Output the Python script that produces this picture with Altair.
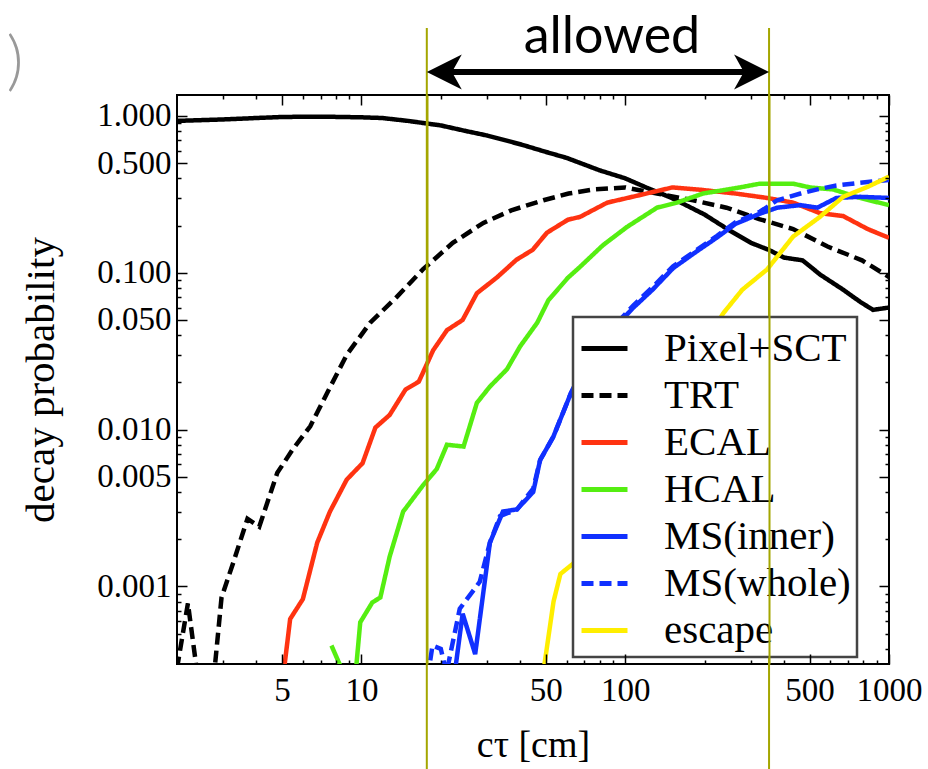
import altair as alt
import pandas as pd

# ---------------- data ----------------
series_names = ["Pixel+SCT", "TRT", "ECAL", "HCAL", "MS(inner)", "MS(whole)", "escape"]
series_colors = ["#000000", "#000000", "#ff3311", "#55ee11", "#1030ff", "#1030ff", "#ffee00"]
series_dash = [[1, 0], [12, 6], [1, 0], [1, 0], [1, 0], [12, 6], [1, 0]]

pix_ct = [2, 3, 4, 5, 7, 10, 12, 15, 20, 25, 30, 40, 50, 60, 80, 100, 120, 150, 200,
          250, 300, 350, 400, 470, 550, 670, 780, 870, 1000]
pix_p = [0.93, 0.95, 0.97, 0.985, 0.99, 0.98, 0.97, 0.93, 0.87, 0.80, 0.75, 0.66, 0.59,
         0.54, 0.45, 0.40, 0.35, 0.30, 0.235, 0.185, 0.155, 0.14, 0.125, 0.12, 0.097,
         0.078, 0.065, 0.058, 0.06]

trt_ct = [2.0, 2.2, 2.45, 2.75, 2.95, 3.26, 3.7, 4.1, 4.8, 5.5, 6.4, 7.4, 8.8, 10.8, 13.6,
          17.1, 22.2, 29, 37, 49, 61, 76, 100, 132, 181, 242, 322, 433, 585, 790, 1000]
trt_p = [0.0003, 0.00078, 0.0002, 0.00025, 0.00085, 0.0014, 0.0027, 0.0024, 0.0053, 0.0075,
         0.0105, 0.017, 0.03, 0.048, 0.07, 0.105, 0.155, 0.208, 0.25, 0.29, 0.32, 0.34,
         0.35, 0.32, 0.29, 0.26, 0.22, 0.19, 0.147, 0.12, 0.094]

ecal_ct = [4.95, 5.37, 6.0, 6.8, 7.6, 8.8, 10.1, 11.3, 12.8, 14.7, 16.5, 17.1, 18.7, 21.1,
           24.2, 27.4, 32.8, 38.7, 44.6, 50.5, 60.7, 67.4, 85.5, 111, 151, 194, 262, 345,
           433, 547, 670, 830, 1000]
ecal_p = [0.0002, 0.00062, 0.00083, 0.0019, 0.003, 0.0048, 0.0061, 0.0103, 0.0124, 0.018,
          0.0202, 0.023, 0.032, 0.043, 0.05, 0.074, 0.094, 0.121, 0.14, 0.18, 0.218, 0.227,
          0.28, 0.31, 0.35, 0.338, 0.32, 0.30, 0.28, 0.24, 0.23, 0.19, 0.167]

hcal_ct = [7.7, 8.4, 9.0, 9.9, 11.0, 11.8, 12.8, 14.4, 17.1, 19.3, 21.1, 24.4, 27.4, 30.7,
           35.6, 40, 46.4, 51.2, 60.7, 67.4, 82.4, 101.6, 132, 157, 197, 272, 324, 433,
           502, 614, 776, 1000]
hcal_p = [0.00042, 0.0003, 0.0001, 0.00059, 0.00079, 0.00085, 0.00155, 0.003, 0.0044,
          0.0056, 0.008, 0.0078, 0.0148, 0.0188, 0.0242, 0.034, 0.048, 0.067, 0.093, 0.109,
          0.15, 0.196, 0.26, 0.28, 0.32, 0.35, 0.37, 0.37, 0.35, 0.34, 0.30, 0.27]

msi_ct = [22.0, 24.2, 27.0, 30.7, 34.4, 38.9, 44.8, 47.6, 53.4, 62.2, 71.9, 85.5, 107.5,
          127, 152, 181, 223, 262, 324, 377, 462, 535, 632, 776, 1000]
msi_p = [0.0002, 0.00067, 0.00037, 0.0019, 0.003, 0.0031, 0.004, 0.0064, 0.009, 0.017,
         0.027, 0.04, 0.06, 0.078, 0.107, 0.132, 0.168, 0.205, 0.238, 0.26, 0.27, 0.26,
         0.30, 0.305, 0.30]

msw_ct = [17.4, 18.6, 20.0, 21.0, 23.6, 28.1, 30.7, 33.5, 38.9, 44.8, 47.6, 53.4, 62.2,
          71.9, 85.5, 107.5, 127, 152, 181, 223, 262, 324, 377, 462, 535, 632, 776, 1000]
msw_p = [0.0002, 0.00042, 0.0004, 0.00028, 0.00072, 0.00107, 0.0019, 0.0028, 0.0031,
         0.0042, 0.0064, 0.009, 0.017, 0.028, 0.041, 0.062, 0.081, 0.11, 0.135, 0.172,
         0.21, 0.245, 0.29, 0.32, 0.34, 0.36, 0.375, 0.39]

esc_ct = [47.5, 53.5, 56.8, 63.6, 80, 100, 130, 160, 200, 235, 278, 345, 433, 547, 670,
          830, 1000]
esc_p = [0.0002, 0.0008, 0.0012, 0.0014, 0.0025, 0.005, 0.011, 0.02, 0.035, 0.055, 0.078,
         0.105, 0.17, 0.227, 0.305, 0.353, 0.41]

x_major = [5, 10, 50, 100, 500, 1000]
x_minor = [3, 4, 6, 7, 8, 9, 20, 30, 40, 60, 70, 80, 90, 200, 300, 400, 600, 700, 800, 900]
y_major = [1.0, 0.5, 0.1, 0.05, 0.01, 0.005, 0.001]
y_minor = [0.9, 0.8, 0.7, 0.6, 0.4, 0.3, 0.2,
           0.09, 0.08, 0.07, 0.06, 0.04, 0.03, 0.02,
           0.009, 0.008, 0.007, 0.006, 0.004, 0.003, 0.002,
           0.0009, 0.0008, 0.0007, 0.0006, 0.0005, 0.0004]

x_domain = [2, 1000]
y_domain = [3.2e-4, 1.36]

allowed_range = [17.7, 351]
allowed_text = ["allowed"]

# ---------------- build table ----------------
rows = []
for name, cts, ps in [
    ("Pixel+SCT", pix_ct, pix_p), ("TRT", trt_ct, trt_p), ("ECAL", ecal_ct, ecal_p),
    ("HCAL", hcal_ct, hcal_p), ("MS(inner)", msi_ct, msi_p), ("MS(whole)", msw_ct, msw_p),
    ("escape", esc_ct, esc_p)]:
    for c, p in zip(cts, ps):
        rows.append({"series": name, "ct": c, "p": p})
df = pd.DataFrame(rows)

SERIF = "Liberation Serif"
OLIVE = "#a4a600"

x_scale = alt.Scale(type="log", domain=x_domain, nice=False)
y_scale = alt.Scale(type="log", domain=y_domain, nice=False)

legend = alt.Legend(
    title=None, orient="none", legendX=396, legendY=222,
    fillColor="white", strokeColor="#444444", padding=6,
    symbolType="stroke", symbolSize=2116, symbolStrokeWidth=5,
    labelFont=SERIF, labelFontSize=41, labelColor="black", labelOffset=34,
    labelLimit=0, rowPadding=1, zindex=0,
)

lines = alt.Chart(df).mark_line(strokeWidth=4.5, clip=True).encode(
    x=alt.X("ct:Q", scale=x_scale, axis=alt.Axis(
        orient="bottom", values=x_major, format="d", labelFont=SERIF, labelFontSize=33,
        labelColor="black", labelPadding=10, ticks=False, tickSize=0, domain=False,
        grid=False, labelFlush=False, labelOverlap=False,
        title="cτ [cm]", titleFont=SERIF, titleFontSize=38, titleFontWeight="normal",
        titleColor="black", titleY=81, titleBaseline="middle")),
    y=alt.Y("p:Q", scale=y_scale, axis=alt.Axis(
        orient="left", values=y_major, format=".3f", labelFont=SERIF, labelFontSize=33,
        labelColor="black", labelPadding=6, ticks=False, tickSize=0, domain=False,
        grid=False, labelOverlap=False,
        title="decay probability", titleFont=SERIF, titleFontSize=41,
        titleFontWeight="normal", titleColor="black", titleX=-115, titleBaseline="bottom")),
    color=alt.Color("series:N", scale=alt.Scale(domain=series_names, range=series_colors),
                    legend=legend),
    strokeDash=alt.StrokeDash("series:N", scale=alt.Scale(domain=series_names, range=series_dash),
                              legend=legend),
)


def tick_layer(x_orient, y_orient, xvals, yvals, size):
    return alt.Chart(df).mark_point(opacity=0).encode(
        x=alt.X("ct:Q", scale=x_scale, axis=alt.Axis(
            orient=x_orient, values=xvals, labels=False, domain=False, grid=False,
            ticks=True, tickSize=size, tickColor="black", tickWidth=1.5, tickOpacity=1,
            offset=-size, title=None, zindex=1)),
        y=alt.Y("p:Q", scale=y_scale, axis=alt.Axis(
            orient=y_orient, values=yvals, labels=False, domain=False, grid=False,
            ticks=True, tickSize=size, tickColor="black", tickWidth=1.5, tickOpacity=1,
            offset=-size, title=None, zindex=1)),
    )


t1 = tick_layer("bottom", "left", x_major, y_major, 10)
t2 = tick_layer("bottom", "left", x_minor, y_minor, 4)
t3 = tick_layer("top", "right", x_major, y_major, 10)
t4 = tick_layer("top", "right", x_minor, y_minor, 4)

bounds_df = pd.DataFrame({"ct": allowed_range})

# olive lines on top of everything inside the frame (grid drawn above legend)
grid = alt.Chart(bounds_df).mark_point(opacity=0).encode(
    x=alt.X("ct:Q", scale=x_scale, axis=alt.Axis(
        orient="bottom", values=allowed_range, labels=False, ticks=False, domain=False,
        grid=True, gridColor=OLIVE, gridWidth=2, gridOpacity=1, zindex=1, title=None)),
)

# full-height olive lines (outside the frame too)
vlines = alt.Chart(bounds_df).mark_rule(color=OLIVE, strokeWidth=2).encode(
    x=alt.X("ct:Q", scale=x_scale, axis=None),
    y=alt.value(-67), y2=alt.value(680),
)

arrow_df = pd.DataFrame({"lo": [allowed_range[0]], "hi": [allowed_range[1]],
                         "label": allowed_text,
                         "mid": [(allowed_range[0] * allowed_range[1]) ** 0.5]})

shaft = alt.Chart(arrow_df).mark_rule(color="black", strokeWidth=6, xOffset=25, x2Offset=-25).encode(
    x=alt.X("lo:Q", scale=x_scale, axis=None),
    x2="hi:Q",
    y=alt.value(-23),
)

head_left = alt.Chart(arrow_df).mark_point(
    shape="M0,0L1,-0.5L0.72,0L1,0.5Z", filled=True, size=4900, color="black", opacity=1,
    strokeWidth=0).encode(
    x=alt.X("lo:Q", scale=x_scale, axis=None), y=alt.value(-23))

head_right = alt.Chart(arrow_df).mark_point(
    shape="M0,0L-1,-0.5L-0.72,0L-1,0.5Z", filled=True, size=4900, color="black", opacity=1,
    strokeWidth=0).encode(
    x=alt.X("hi:Q", scale=x_scale, axis=None), y=alt.value(-23))

allowed_lbl = alt.Chart(arrow_df).mark_text(
    font="Lato", fontSize=52, color="black", baseline="alphabetic", align="center", dx=14).encode(
    x=alt.X("mid:Q", scale=x_scale, axis=None), y=alt.value(-42), text="label:N")

paren = alt.Chart(pd.DataFrame({"t": [")"]})).mark_text(
    font="Lato", fontSize=66, color="#999999", baseline="middle", align="center",
    fontWeight=300).encode(
    x=alt.value(-162), y=alt.value(-32), text="t:N")

chart = alt.layer(
    lines, t1, t2, t3, t4, vlines, shaft, head_left, head_right, allowed_lbl, paren, grid
).resolve_axis(
    x="independent", y="independent"
).properties(
    width=712, height=569,
    padding={"left": 177, "top": 95, "right": 39, "bottom": 105},
    autosize=alt.AutoSizeParams(type="none"),
    background="white",
).configure_view(
    stroke="black", strokeWidth=2
).configure_legend(
    strokeWidth=2.5
)

chart.save("out.html", embed_options={"renderer": "svg", "actions": False})
